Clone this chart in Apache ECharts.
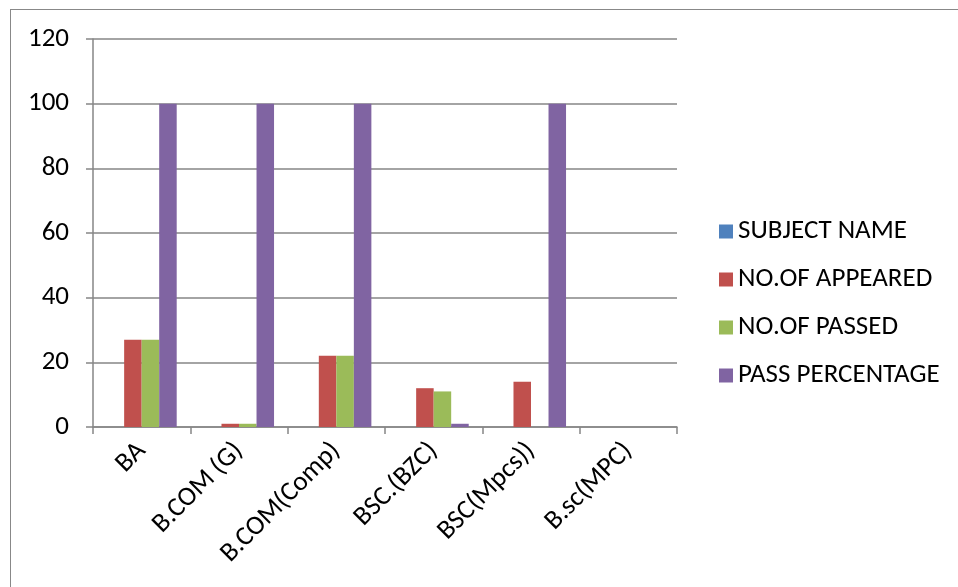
<!DOCTYPE html>
<html>
<head>
<meta charset="utf-8">
<script src="https://cdn.jsdelivr.net/npm/echarts@6/dist/echarts.min.js"></script>
<style>
html,body{margin:0;padding:0;background:#fff;}
#frame{position:absolute;left:10px;top:9px;width:960px;height:600px;border-top:1px solid #888;border-left:1px solid #888;}
#chart{position:absolute;left:0;top:0;width:958px;height:587px;}
</style>
</head>
<body>
<div id="frame"></div>
<div id="chart"></div>
<script>
var categories = ['BA', 'B.COM (G)', 'B.COM(Comp)', 'BSC.(BZC)', 'BSC(Mpcs))', 'B.sc(MPC)'];
var seriesNames = ['SUBJECT NAME', 'NO.OF APPEARED', 'NO.OF PASSED', 'PASS PERCENTAGE'];
var subjectName = [0, 0, 0, 0, 0, 0];
var appeared = [27, 1, 22, 12, 14, 0];
var passed = [27, 1, 22, 11, 0, 0];
var passPercentage = [100, 100, 100, 1, 100, 0];
var yTicks = [0, 20, 40, 60, 80, 100, 120];
var colors = ['#4F81BD', '#C0504D', '#9BBB59', '#8064A2'];

var FONT = 'Carlito, "Liberation Sans", Arial, sans-serif';
var chart = echarts.init(document.getElementById('chart'));
var values = [subjectName, appeared, passed, passPercentage];
var series = seriesNames.map(function (n, i) {
  return {
    name: n,
    type: 'bar',
    data: values[i],
    barGap: 0,
    barCategoryGap: '28%',
    itemStyle: { color: colors[i] }
  };
});
chart.setOption({
  animation: false,
  backgroundColor: 'transparent',
  color: colors,
  grid: { left: 93, right: 281, top: 39, bottom: 160, containLabel: false },
  legend: {
    orient: 'vertical',
    left: 719,
    top: 218,
    padding: 0,
    itemWidth: 14,
    itemHeight: 14,
    itemGap: 21,
    icon: 'rect',
    textStyle: { fontFamily: FONT, fontSize: 27, color: '#000', lineHeight: 27 },
    data: seriesNames
  },
  xAxis: {
    type: 'category',
    data: categories,
    axisLine: { lineStyle: { color: '#868686', width: 1.5 } },
    axisTick: { show: true, length: 7, lineStyle: { color: '#868686', width: 1.5 } },
    axisLabel: { rotate: 45, interval: 0, margin: 20, fontFamily: FONT, fontSize: 27, color: '#000' }
  },
  yAxis: {
    type: 'value',
    min: yTicks[0],
    max: yTicks[yTicks.length - 1],
    interval: 20,
    axisLine: { show: true, lineStyle: { color: '#868686', width: 1.5 } },
    axisTick: { show: true, length: 7, lineStyle: { color: '#868686', width: 1.5 } },
    splitLine: { lineStyle: { color: '#868686', width: 1.5 } },
    axisLabel: { margin: 24, fontFamily: FONT, fontSize: 27, color: '#000' }
  },
  series: series
});
</script>
</body>
</html>
